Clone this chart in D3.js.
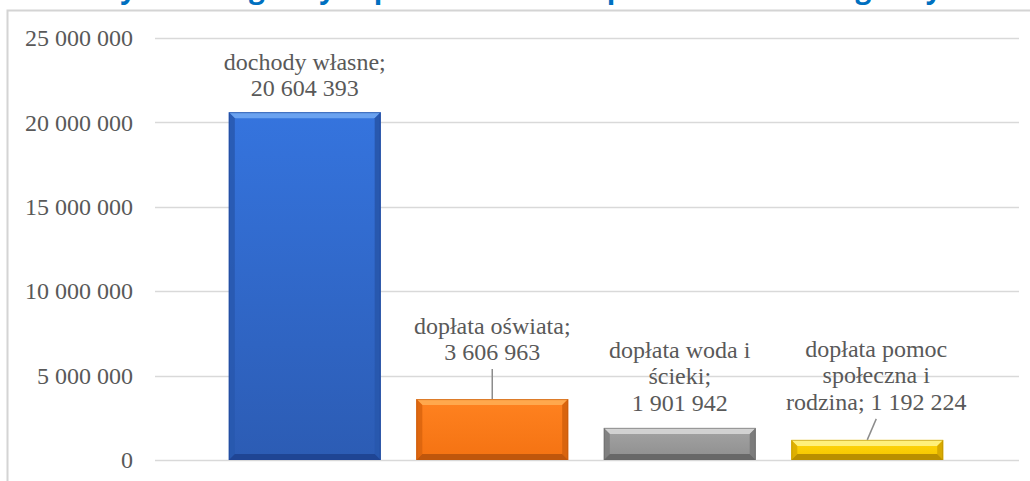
<!DOCTYPE html>
<html>
<head>
<meta charset="utf-8">
<script src="https://cdn.jsdelivr.net/npm/d3@7"></script>
<style>
  html, body { margin: 0; padding: 0; background: #fff; overflow: hidden; }
  .serif { font-family: 'Times New Roman', 'Liberation Serif', 'Noto Serif', 'DejaVu Serif', Times, serif; }
</style>
</head>
<body>
<div id="chart"></div>
<script>
// chart values
const categories = ['dochody własne', 'dopłata oświata', 'dopłata woda i ścieki', 'dopłata pomoc społeczna i rodzina'];
const values = [20604393, 3606963, 1901942, 1192224];
const labelLines = [
    ['dochody własne;', '20 604 393'],
    ['dopłata oświata;', '3 606 963'],
    ['dopłata woda i', 'ścieki;', '1 901 942'],
    ['dopłata pomoc', 'społeczna i', 'rodzina; 1 192 224']
];
const yTicks = [0, 5000000, 10000000, 15000000, 20000000, 25000000];
const titleText = 'Dochody własne gminy w porównaniu z dopłatami do zadań gminy';

// layout / style
const W = 1030, H = 481;
const palette = [
    { top: '#6aa2f0', a: '#3574de', b: '#2c5cb4', side: '#2858ae', bottom: '#1f4594' },
    { top: '#ffa84d', a: '#ff8220', b: '#f47212', side: '#d9640e', bottom: '#bf560c' },
    { top: '#d2d2d2', a: '#a4a4a4', b: '#8e8e8e', side: '#7c7c7c', bottom: '#686868' },
    { top: '#fff07a', a: '#ffd60a', b: '#f4c400', side: '#d8aa00', bottom: '#b98f00' }
];
const labelGap = [16, 39, 17, 30];     // distance from last baseline to bar top
const labelShift = [0, 0, 0, 9];       // horizontal nudge of the label
const leader = [false, true, false, true];

const svg = d3.select('#chart').append('svg')
    .attr('width', W).attr('height', H);

// frame of the chart area
svg.append('path')
    .attr('d', `M7.5,${H} L7.5,10.5 L${W},10.5`)
    .attr('fill', 'none')
    .attr('stroke', '#d4d4d4')
    .attr('stroke-width', 2);

// cropped title (only descenders show)
svg.append('text')
    .attr('x', 478).attr('y', -2)
    .attr('text-anchor', 'middle')
    .style('font-family', "'Open Sans', sans-serif")
    .style('font-weight', 'bold')
    .style('font-size', '28px')
    .attr('fill', '#0070c0')
    .text(titleText);

let y = d3.scaleLinear()
    .domain([0, 25000000])
    .range([460, 38]);

let x = d3.scaleBand()
    .domain(categories)
    .range([211, 961])
    .paddingInner(0.19)
    .paddingOuter(0.095);

// gridlines
svg.append('g')
    .selectAll('line')
    .data(yTicks)
    .enter()
    .append('line')
    .attr('x1', 155).attr('x2', 1019)
    .attr('y1', d => Math.round(y(d)) + 0.5)
    .attr('y2', d => Math.round(y(d)) + 0.5)
    .attr('stroke', '#d9d9d9')
    .attr('stroke-width', 1.5);

// y axis labels
let yAxis = d3.axisLeft(y)
    .tickValues(yTicks)
    .tickSize(0)
    .tickPadding(0)
    .tickFormat(d => d3.format(',')(d).replace(/,/g, ' '));

let gy = svg.append('g')
    .attr('transform', 'translate(133,0)')
    .call(yAxis)
    .attr('font-family', null)
    .attr('font-size', null);
gy.select('.domain').remove();
gy.selectAll('text')
    .attr('class', 'serif')
    .style('font-size', '24px')
    .attr('fill', '#595959');

// bars with bevel
const bev = 6;
let defs = svg.append('defs');
palette.forEach((p, i) => {
    let g = defs.append('linearGradient')
        .attr('id', 'grad' + i)
        .attr('x1', 0).attr('y1', 0).attr('x2', 0).attr('y2', 1);
    g.append('stop').attr('offset', '0%').attr('stop-color', p.a);
    g.append('stop').attr('offset', '100%').attr('stop-color', p.b);
});

let bars = svg.append('g')
    .selectAll('g')
    .data(values)
    .enter()
    .append('g');

bars.each(function (d, i) {
    let g = d3.select(this);
    let x0 = x(categories[i]), x1 = x0 + x.bandwidth();
    let y0 = y(d), y1 = y(0);
    let p = palette[i];
    let b = Math.min(bev, (y1 - y0) / 2);

    g.append('rect')
        .attr('x', x0).attr('y', y0)
        .attr('width', x1 - x0).attr('height', y1 - y0)
        .attr('fill', `url(#grad${i})`);
    // top
    g.append('polygon')
        .attr('points', [[x0, y0], [x1, y0], [x1 - b, y0 + b], [x0 + b, y0 + b]].join(' '))
        .attr('fill', p.top);
    // left
    g.append('polygon')
        .attr('points', [[x0, y0], [x0 + b, y0 + b], [x0 + b, y1 - b], [x0, y1]].join(' '))
        .attr('fill', p.side).attr('opacity', 0.85);
    // right
    g.append('polygon')
        .attr('points', [[x1, y0], [x1 - b, y0 + b], [x1 - b, y1 - b], [x1, y1]].join(' '))
        .attr('fill', p.side);
    // bottom
    g.append('polygon')
        .attr('points', [[x0, y1], [x0 + b, y1 - b], [x1 - b, y1 - b], [x1, y1]].join(' '))
        .attr('fill', p.bottom);
    g.append('rect')
        .attr('x', x0 + 0.5).attr('y', y0 + 0.5)
        .attr('width', x1 - x0 - 1).attr('height', y1 - y0 - 1)
        .attr('fill', 'none')
        .attr('stroke', p.bottom)
        .attr('stroke-opacity', 0.6);
});

// data labels
const lineH = 26.5;
let labels = svg.append('g')
    .selectAll('text')
    .data(labelLines)
    .enter()
    .append('text')
    .attr('class', 'serif')
    .attr('text-anchor', 'middle')
    .style('font-size', '24px')
    .attr('fill', '#595959');

labels.each(function (lines, i) {
    let cx = x(categories[i]) + x.bandwidth() / 2 + labelShift[i];
    let lastBase = y(values[i]) - labelGap[i];
    let t = d3.select(this);
    lines.forEach((s, j) => {
        t.append('tspan')
            .attr('x', cx)
            .attr('y', lastBase - (lines.length - 1 - j) * lineH)
            .text(s);
    });
});

// leader lines
svg.append('g')
    .selectAll('line')
    .data(values.map((v, i) => i).filter(i => leader[i]))
    .enter()
    .append('line')
    .attr('x1', i => x(categories[i]) + x.bandwidth() / 2 + labelShift[i])
    .attr('y1', i => y(values[i]) - labelGap[i] + 9)
    .attr('x2', i => x(categories[i]) + x.bandwidth() / 2)
    .attr('y2', i => y(values[i]))
    .attr('stroke', '#8c8c8c')
    .attr('stroke-width', 1.5);
</script>
</body>
</html>
